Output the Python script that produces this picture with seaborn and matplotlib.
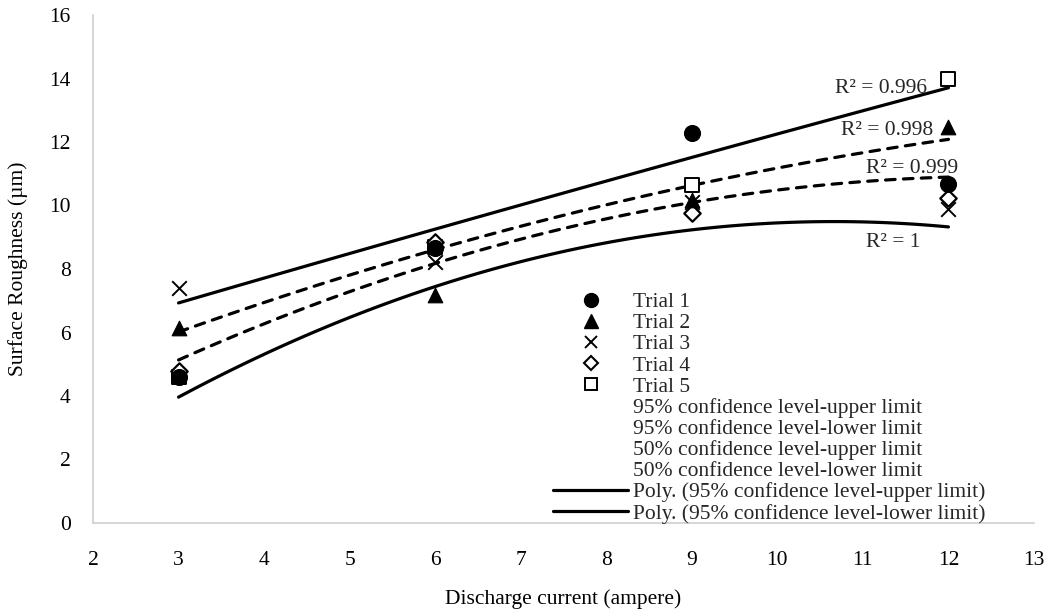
import numpy as np
import pandas as pd
import matplotlib
matplotlib.use("Agg")
import matplotlib.pyplot as plt
from matplotlib.lines import Line2D
import seaborn as sns

# ---- data ----
current = [3, 6, 9, 12]
trial1 = [4.6, 8.66, 12.28, 10.68]
trial2 = [6.14, 7.18, 10.17, 12.47]
trial3 = [7.4, 8.22, 10.1, 9.9]
trial4 = [4.8, 8.85, 9.76, 10.24]
trial5 = [4.6, 8.7, 10.65, 14.0]
upper95 = [6.96, 9.17, 11.6, 13.68]
lower95 = [3.97, 7.43, 9.25, 9.32]
upper50 = [6.0, 8.66, 10.58, 12.1]
lower50 = [5.13, 8.19, 10.08, 10.9]
r2_labels = ["R² = 0.996", "R² = 0.998", "R² = 0.999", "R² = 1"]
xticks = list(range(2, 14))
yticks = list(range(0, 17, 2))

sns.set_theme(style="white")
plt.rcParams['font.family'] = ['Liberation Serif', 'DejaVu Serif']

fig = plt.figure(figsize=(10.47, 6.10), dpi=100)
ax = fig.add_axes([93/1047, 1-523/610, (1034-93)/1047, (523-15)/610])

lw = 2.3
# trend lines (2nd order polynomial)
for vals, ls in [(upper95, '-'), (upper50, '--'), (lower50, '--'), (lower95, '-')]:
    sns.regplot(x=current, y=vals, order=2, ci=None, scatter=False, truncate=True,
                ax=ax, line_kws=dict(color='black', lw=lw, linestyle=ls,
                                     dash_capstyle='round', solid_capstyle='round'))
for line in ax.lines:
    if line.get_linestyle() == '--':
        line.set_dashes((3.0, 2.6))

ms = 110
sns.scatterplot(x=current, y=trial5, marker='s', s=ms, facecolor='white', edgecolor='black', linewidth=1.4, ax=ax, zorder=3)
sns.scatterplot(x=current, y=trial4, marker='D', s=70, facecolor='white', edgecolor='black', linewidth=1.6, ax=ax, zorder=3)
sns.scatterplot(x=current, y=trial3, marker='x', s=110, color='black', linewidth=1.4, ax=ax, zorder=3)
sns.scatterplot(x=current, y=trial2, marker='^', s=110, color='black', edgecolor='black', ax=ax, zorder=3)
sns.scatterplot(x=current, y=trial1, marker='o', s=130, color='black', edgecolor='black', ax=ax, zorder=3)

# R^2 labels
fs = 15.5
ax.text(10.67, 13.7, r2_labels[0], fontsize=fs, va='center', ha='left')
ax.text(10.74, 12.35, r2_labels[1], fontsize=fs, va='center', ha='left')
ax.text(11.04, 11.18, r2_labels[2], fontsize=fs, va='center', ha='left')
ax.text(11.04, 8.82, r2_labels[3], fontsize=fs, va='center', ha='left')

ax.set_xlim(2, 13)
ax.set_ylim(0, 16)
ax.set_xticks(xticks)
ax.set_yticks(yticks)
ax.tick_params(axis='both', length=0, labelsize=fs, colors='black')
ax.tick_params(axis='x', pad=20)
ax.tick_params(axis='y', pad=16)
for s in ['top', 'right']:
    ax.spines[s].set_visible(False)
for s in ['left', 'bottom']:
    ax.spines[s].set_color('#d0d0d0')
    ax.spines[s].set_linewidth(1.2)
ax.grid(False)

ax.set_xlabel("Discharge current (ampere)", fontsize=fs, color='black')
ax.set_ylabel("Surface Roughness (µm)", fontsize=fs, color='black')
ax.xaxis.set_label_coords(0.5, -(599-523)/508, transform=ax.transAxes)
ax.xaxis.label.set_va('center')
ax.yaxis.set_label_coords(-(93-18)/941, 0.5, transform=ax.transAxes)
ax.yaxis.label.set_va('center')

handles = [
    Line2D([], [], linestyle='none', marker='o', color='black', markersize=10),
    Line2D([], [], linestyle='none', marker='^', color='black', markersize=10),
    Line2D([], [], linestyle='none', marker='x', color='black', markersize=9, markeredgewidth=1.4),
    Line2D([], [], linestyle='none', marker='D', markerfacecolor='white', markeredgecolor='black', markersize=7, markeredgewidth=1.5),
    Line2D([], [], linestyle='none', marker='s', markerfacecolor='white', markeredgecolor='black', markersize=9, markeredgewidth=1.4),
    Line2D([], [], linestyle='none'),
    Line2D([], [], linestyle='none'),
    Line2D([], [], linestyle='none'),
    Line2D([], [], linestyle='none'),
    Line2D([], [], color='black', lw=lw),
    Line2D([], [], color='black', lw=lw),
]
labels = ["Trial 1", "Trial 2", "Trial 3", "Trial 4", "Trial 5",
          "95% confidence level-upper limit", "95% confidence level-lower limit",
          "50% confidence level-upper limit", "50% confidence level-lower limit",
          "Poly. (95% confidence level-upper limit)", "Poly. (95% confidence level-lower limit)"]
leg = fig.legend(handles, labels, loc='upper left', bbox_to_anchor=(553/1047, 1-292/610),
                 bbox_transform=fig.transFigure, frameon=False, fontsize=fs,
                 handlelength=3.5, handletextpad=0.23, labelspacing=0.05,
                 borderpad=0, borderaxespad=0)

fig.savefig("out.png", dpi=100)
